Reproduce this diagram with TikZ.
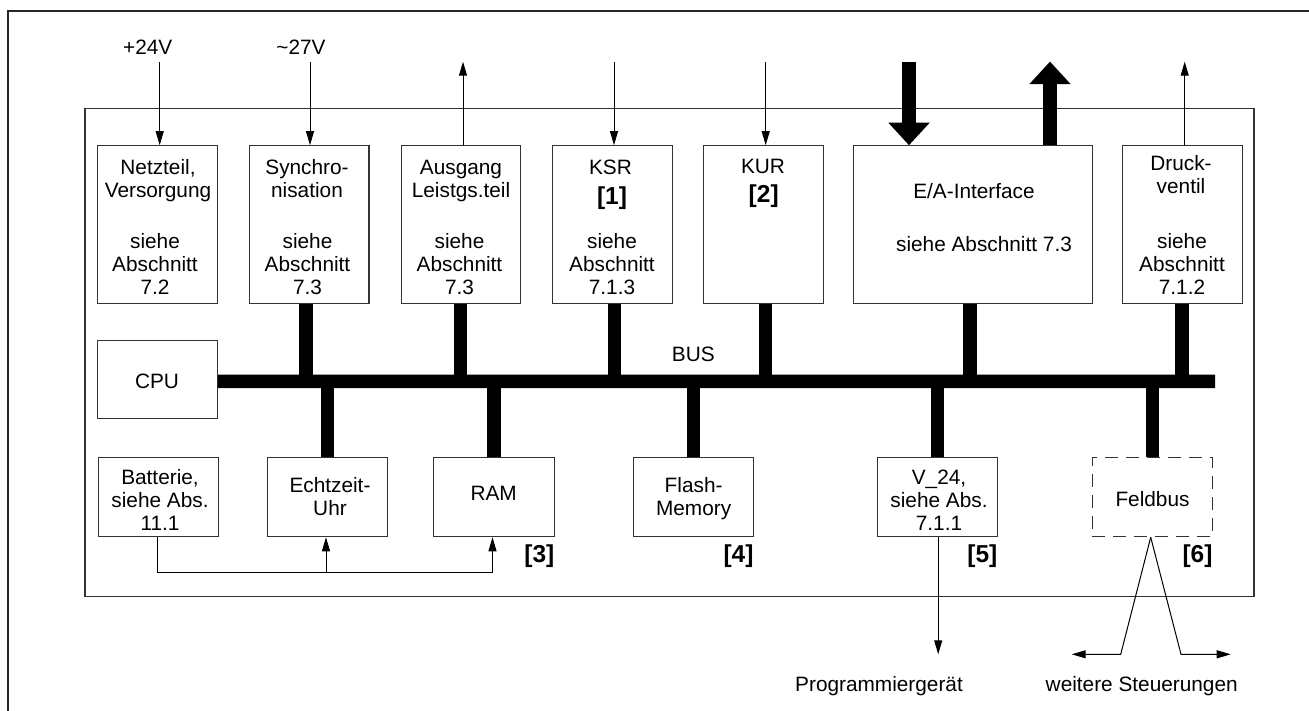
\documentclass[tikz,border=0pt]{standalone}
\usepackage{fontspec}
\setmainfont{Liberation Sans}
\usetikzlibrary{arrows.meta,calc}
\begin{document}
\begin{tikzpicture}[x=1pt,y=-1pt,
  every node/.style={inner sep=0pt, font=\fontsize{20.8}{23}\selectfont},
  blk/.style={draw=black!80, line width=1.1pt},
  topblk/.style={blk, minimum width=119.6pt, minimum height=157.6pt},
  lowblk/.style={blk, minimum width=120pt, minimum height=79.2pt},
  dashblk/.style={dash pattern=on 13pt off 8pt},
  txt/.style={align=center},
  tag/.style={font=\fontsize{24.5}{28}\selectfont\bfseries},
  wire/.style={line width=1pt, draw=black},
  sig/.style={wire, -{Triangle[length=14pt,width=8pt]}},
  stub/.style={line width=13.4pt},
  fat/.style={line width=13.4pt, -{Triangle[length=22.5pt,width=41.5pt,line width=0pt]}}
]
\useasboundingbox (0,0) rectangle (1309,711);

% page frame
\draw[line width=2pt, black!85] (1309,11) -- (8,11) -- (8,711);

% control board outline
\node[blk, minimum width=1169pt, minimum height=488pt] (board) at (669.5,352.7) {};

% upper row of modules
\node[topblk] (netz) at (157.5,224.5) {};
\node[topblk] (sync) at (309.2,224.5) {};
\node[topblk] (ausg) at (460.9,224.5) {};
\node[topblk] (ksr) at (612.3,224.5) {};
\node[topblk] (kur) at (763.5,224.5) {};
\node[topblk, minimum width=239pt] (ea) at (972.8,224.5) {};
\node[topblk] (druck) at (1182.5,224.5) {};

\node[txt, anchor=north] (netz-a) at (158,159.5) {Netzteil,\\Versorgung};
\node[txt, anchor=south] (netz-b) at (155,295) {siehe\\Abschnitt\\7.2};
\node[txt, anchor=north] (sync-a) at (307,159.5) {Synchro-\\nisation};
\node[txt, anchor=south] (sync-b) at (307.5,295) {siehe\\Abschnitt\\7.3};
\node[txt, anchor=north] (ausg-a) at (461,159.5) {Ausgang\\Leistgs.teil};
\node[txt, anchor=south] (ausg-b) at (459.5,295) {siehe\\Abschnitt\\7.3};
\node[anchor=base] (ksr-a) at (610.5,175) {KSR};
\node[tag, anchor=base] (tag1) at (612,205) {[1]};
\node[txt, anchor=south] (ksr-b) at (612,295) {siehe\\Abschnitt\\7.1.3};
\node[anchor=base] (kur-a) at (763,174) {KUR};
\node[tag, anchor=base] (tag2) at (763.7,202.5) {[2]};
\node[anchor=base] (ea-a) at (974,199) {E/A-Interface};
\node[anchor=base] (ea-b) at (984,251.7) {siehe Abschnitt 7.3};
\node[txt, anchor=north] (druck-a) at (1181,155.2) {Druck-\\ventil};
\node[txt, anchor=south] (druck-b) at (1182,295) {siehe\\Abschnitt\\7.1.2};

% supply and signal lines at the top
\node[anchor=base] (lbl24) at (147.7,55) {+24V};
\node[anchor=base] (lbl27) at (301,55) {\textasciitilde27V};
\coordinate (p24) at (159.7,62.3);
\coordinate (p27) at (310,62.3);
\coordinate (pout) at (463,61.7);
\coordinate (pksr) at (614,62.3);
\coordinate (pkur) at (765.7,62.3);
\coordinate (pdr) at (1184.7,61.7);
\draw[sig] (p24) -- (p24 |- netz.north);
\draw[sig] (p27) -- (p27 |- sync.north);
\draw[sig] (pout |- ausg.north) -- (pout);
\draw[sig] (pksr) -- (pksr |- ksr.north);
\draw[sig] (pkur) -- (pkur |- kur.north);
\draw[sig] (pdr |- druck.north) -- (pdr);

% I/O data paths
\coordinate (ein) at (909,62.3);
\coordinate (aus) at (1050,61.7);
\draw[fat] (ein) -- (ein |- ea.north);
\draw[fat] (aus |- ea.north) -- (aus);

% CPU and bus
\node[blk, minimum width=119.8pt, minimum height=78.7pt] (cpu) at (157.5,379.4) {};
\node (cpu-t) at (157,381.7) {CPU};
\coordinate (busend) at (1215,381.3);
\draw[stub] ($(cpu.east)+(0,1.9)$) -- (busend);
\node (bus-t) at (693.3,354) {BUS};

\draw[stub] (306,0 |- sync.south) -- (306,0 |- busend);
\draw[stub] (460.5,0 |- ausg.south) -- (460.5,0 |- busend);
\draw[stub] (614.3,0 |- ksr.south) -- (614.3,0 |- busend);
\draw[stub] (765.7,0 |- kur.south) -- (765.7,0 |- busend);
\draw[stub] (970,0 |- ea.south) -- (970,0 |- busend);
\draw[stub] (1182,0 |- druck.south) -- (1182,0 |- busend);

% lower row of modules
\node[lowblk] (batt) at (158.6,497.1) {};
\node[lowblk] (echt) at (327.6,497.1) {};
\node[lowblk, minimum width=121pt] (ram) at (494,497.1) {};
\node[lowblk] (flash) at (693.6,497.1) {};
\node[lowblk] (v24) at (937.1,497.1) {};
\node[lowblk, dashblk] (feld) at (1152.4,497.1) {};

\node[txt] (batt-t) at (160,500) {Batterie,\\siehe Abs.\\11.1};
\node[txt] (echt-t) at (330,497) {Echtzeit-\\Uhr};
\node (ram-t) at (493.7,493.3) {RAM};
\node[txt] (flash-t) at (693.6,498.8) {Flash-\\Memory};
\node[txt] (v24-t) at (939,500.7) {V\_24,\\siehe Abs.\\7.1.1};
\node (feld-t) at (1152.5,499.5) {Feldbus};

\node[tag, anchor=base east] (tag3) at (554.5,562) {[3]};
\node[tag, anchor=base east] (tag4) at (753.7,562) {[4]};
\node[tag, anchor=base east] (tag5) at (997.5,562) {[5]};
\node[tag, anchor=base east] (tag6) at (1212.7,562) {[6]};

\draw[stub] (echt.north |- busend) -- (echt.north);
\draw[stub] (ram.north |- busend) -- (ram.north);
\draw[stub] (flash.north |- busend) -- (flash.north);
\draw[stub] (937.7,0 |- busend) -- (937.7,0 |- v24.north);
\draw[stub] (feld.north |- busend) -- (feld.north);

% battery backup lines
\coordinate (bk) at (326,572.3);
\coordinate (bj) at (492.5,572.3);
\draw[sig] (157,0 |- batt.south) |- (bj) -- (bj |- ram.south);
\draw[sig] (bk) -- (bk |- echt.south);

% external connections
\coordinate (prog) at (938.2,654.3);
\draw[sig] (938.2,0 |- v24.south) -- (prog);
\node[anchor=base] (prog-t) at (879,691) {Programmiergerät};

\coordinate (fl) at (1071.7,654.3);
\coordinate (fr) at (1230.7,654.3);
\draw[sig] (1150.7,0 |- feld.south) -- (1120.7,654.3) -- (fl);
\draw[sig] (1150.7,0 |- feld.south) -- (1181,654.3) -- (fr);
\node[anchor=base] (weiter) at (1141.7,691) {weitere Steuerungen};
\end{tikzpicture}
\end{document}
